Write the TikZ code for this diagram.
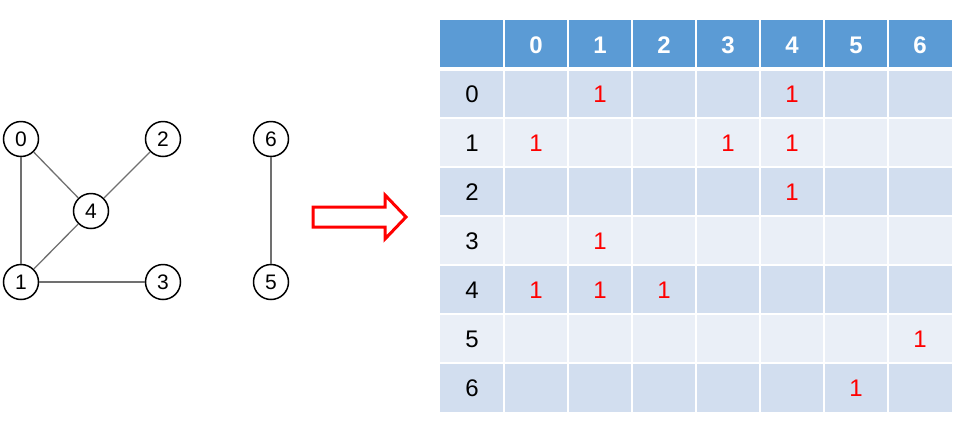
\documentclass[tikz,border=0pt]{standalone}
\usepackage{fontspec}
\setmainfont{Liberation Sans}
\definecolor{hdr}{HTML}{5B9BD5}
\definecolor{rowA}{HTML}{D2DEEF}
\definecolor{rowB}{HTML}{EAEFF7}
\definecolor{edgegray}{HTML}{707070}
\begin{document}
\begin{tikzpicture}[x=1pt,y=-1pt,
  vtx/.style={circle,draw=black,line width=1.5pt,minimum size=35pt,inner sep=0pt,font=\fontsize{21}{21}\selectfont,fill=white},
  edge/.style={draw=edgegray,line width=1.3pt},
  hdrtxt/.style={font=\fontsize{24}{24}\selectfont\bfseries,text=white},
  lbltxt/.style={font=\fontsize{24}{24}\selectfont,text=black},
  onetxt/.style={font=\fontsize{24}{24}\selectfont,text=red}]
\useasboundingbox (0,0) rectangle (971,429);
% graph
\node[vtx] (v0) at (21,139) {0};
\node[vtx] (v2) at (163,139) {2};
\node[vtx] (v4) at (91,211) {4};
\node[vtx] (v1) at (21,282) {1};
\node[vtx] (v3) at (163,282) {3};
\node[vtx] (v6) at (271,139) {6};
\node[vtx] (v5) at (271,282) {5};
\draw[edge] (v0) -- (v1);
\draw[edge] (v0) -- (v4);
\draw[edge] (v2) -- (v4);
\draw[edge] (v4) -- (v1);
\draw[edge] (v1) -- (v3);
\draw[edge] (v6) -- (v5);
% arrow
\draw[red,line width=3pt,line join=miter] (313,207) -- (385,207) -- (385,195) -- (406,217) -- (385,239) -- (385,227) -- (313,227) -- cycle;
% table backgrounds
\fill[hdr] (440,20) rectangle (952,69);
\foreach \r in {0,...,6}{
  \pgfmathsetmacro{\ytop}{69+49*\r}
  \pgfmathsetmacro{\ybot}{69+49*(\r+1)}
  \ifodd\r
    \fill[rowB] (440,\ytop) rectangle (952,\ybot);
  \else
    \fill[rowA] (440,\ytop) rectangle (952,\ybot);
  \fi
}
% grid lines
\foreach \c in {1,...,7}{
  \draw[white,line width=2pt] (440+64*\c,20) -- (440+64*\c,412);
}
\foreach \r in {1,...,6}{
  \draw[white,line width=2pt] (440,69+49*\r) -- (952,69+49*\r);
}
\draw[white,line width=4pt] (440,69) -- (952,69);
% header labels
\foreach \c in {0,...,6}{
  \node[hdrtxt] (h\c) at (536+64*\c,45) {\c};
}
% row labels
\foreach \r in {0,...,6}{
  \node[lbltxt] (r\r) at (472,94+49*\r) {\r};
}
% ones
\foreach \r/\c in {0/1,0/4,1/0,1/3,1/4,2/4,3/1,4/0,4/1,4/2,5/6,6/5}{
  \node[onetxt] (m\r\c) at (536+64*\c,94+49*\r) {1};
}
\end{tikzpicture}
\end{document}
